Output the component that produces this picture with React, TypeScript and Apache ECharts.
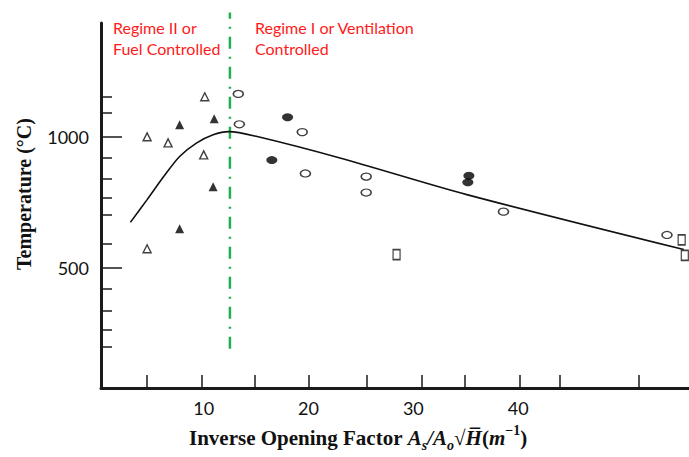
import React, { useEffect, useRef } from "react";
import * as echarts from "echarts";

// Data
const curveX = [3.0, 4.6, 6.2, 7.7, 9.3, 10.9, 12.4, 15.1, 23.0, 35.1, 55.8];
const curveY = [673, 760, 849, 925, 976, 1008, 1020, 1001, 919, 779, 569];

const openTriangles = [[4.6, 1000], [6.6, 977], [10.1, 1153], [10.0, 931], [4.6, 572]];
const filledTriangles = [[7.7, 1046], [11.0, 1069], [10.9, 809], [7.7, 649]];
const openCircles = [[13.3, 1164], [13.4, 1048], [19.4, 1018], [19.7, 860], [25.5, 848], [25.5, 787], [38.6, 714], [54.2, 625]];
const filledCircles = [[18.0, 1075], [16.5, 911], [35.3, 851], [35.2, 826]];
const openSquares = [[28.4, 550], [55.6, 606], [55.9, 547]];

const regimeBoundaryX = 12.5;
const regimeBoundaryY = [190, 1475];

const xTickValues = [4.6, 9.84, 14.9, 20.05, 25.58, 30.83, 34.93, 40.18, 44.0, 51.5];
const xLabelValues = [10, 20, 30, 40];
const yMajorValues = [500, 1000];
const yMinorValues = [1152, 1091, 919, 839, 766, 701, 590, 418, 334, 262, 197];

const X_MIN = 0.2;
const X_MAX = 56.3;
const Y_MIN = 40;
const Y_MAX = 1435;

export default function App() {
  const ref = useRef<HTMLDivElement>(null);
  useEffect(() => {
    if (!ref.current) return;
    const chart = echarts.init(ref.current, undefined, { renderer: "svg" });
    const axisColor = "#1a1a1a";
    const serif = "'Liberation Serif', 'Times New Roman', serif";
    const sans = "Lato, 'Open Sans', sans-serif";
    chart.setOption({
      animation: false,
      backgroundColor: "#ffffff",
      grid: { left: 101, right: 0, top: 23, bottom: 69, containLabel: false },
      xAxis: {
        type: "value",
        min: X_MIN,
        max: X_MAX,
        axisLine: { show: true, onZero: false, lineStyle: { color: axisColor, width: 3 } },
        axisTick: { show: true, inside: true, length: 13, customValues: xTickValues, lineStyle: { color: axisColor, width: 1.5 } },
        axisLabel: { show: true, customValues: xLabelValues, margin: 11, color: "#111", fontSize: 18, fontFamily: sans, formatter: (v: number) => String(v) },
        splitLine: { show: false },
      },
      yAxis: [
        {
          type: "value",
          min: Y_MIN,
          max: Y_MAX,
          position: "left",
          axisLine: { show: true, onZero: false, lineStyle: { color: axisColor, width: 3 } },
          axisTick: { show: true, inside: true, length: 21, customValues: yMajorValues, lineStyle: { color: axisColor, width: 1.5 } },
          axisLabel: { show: true, customValues: yMajorValues, margin: 12, color: "#111", fontSize: 18, fontFamily: sans, formatter: (v: number) => String(v) },
          splitLine: { show: false },
        },
        {
          type: "value",
          min: Y_MIN,
          max: Y_MAX,
          position: "left",
          axisLine: { show: false },
          axisTick: { show: true, inside: true, length: 11, customValues: yMinorValues, lineStyle: { color: axisColor, width: 1.5 } },
          axisLabel: { show: false },
          splitLine: { show: false },
        },
      ],
      graphic: [
        {
          type: "text",
          left: 113,
          top: 17,
          style: {
            text: "Regime II or\nFuel Controlled",
            fill: "#ff1a1a",
            font: `16px ${sans}`,
            lineHeight: 21,
          },
        },
        {
          type: "text",
          left: 255,
          top: 17,
          style: {
            text: "Regime I or Ventilation\nControlled",
            fill: "#ff1a1a",
            font: `16px ${sans}`,
            lineHeight: 21,
          },
        },
        {
          type: "text",
          x: 24,
          y: 194,
          rotation: Math.PI / 2,
          style: {
            text: "Temperature (\u00B0C)",
            fill: "#111",
            font: `bold 20px ${serif}`,
            align: "center",
            verticalAlign: "middle",
          },
        },
        {
          type: "text",
          left: 189,
          top: 423,
          style: {
            text: "{b|Inverse Opening Factor }{i|A}{sub|s}{i|/A}{sub|o}{b|\u221A}{i|H\u0305}{b|(}{i|m}{sup|\u22121}{b|)}",
            rich: {
              b: { fontFamily: serif, fontWeight: "bold", fontSize: 21, lineHeight: 29, fill: "#111" },
              i: { fontFamily: serif, fontWeight: "bold", fontStyle: "italic", fontSize: 21, lineHeight: 29, fill: "#111" },
              sub: { fontFamily: serif, fontWeight: "bold", fontStyle: "italic", fontSize: 14, verticalAlign: "bottom", fill: "#111" },
              sup: { fontFamily: serif, fontWeight: "bold", fontSize: 14, verticalAlign: "top", fill: "#111" },
            },
          },
        },
      ],
      series: [
        {
          type: "line",
          data: curveX.map((x, i) => [x, curveY[i]]),
          smooth: 0.3,
          showSymbol: false,
          symbol: "none",
          lineStyle: { color: "#111", width: 1.6 },
          z: 2,
        },
        {
          type: "line",
          data: regimeBoundaryY.map((y) => [regimeBoundaryX, y]),
          clip: false,
          symbol: "none",
          lineStyle: { color: "#1fb14e", width: 2.5, type: [12, 8, 2, 8] },
          z: 1,
        },
        {
          type: "scatter",
          data: openTriangles,
          symbol: "triangle",
          symbolSize: [8, 8],
          itemStyle: { color: "#fff", borderColor: "#111", borderWidth: 1.4 },
          z: 3,
        },
        {
          type: "scatter",
          data: filledTriangles,
          symbol: "triangle",
          symbolSize: [9, 9],
          itemStyle: { color: "#000" },
          z: 3,
        },
        {
          type: "scatter",
          data: openCircles,
          symbol: "circle",
          symbolSize: [10, 7],
          itemStyle: { color: "#fff", borderColor: "#111", borderWidth: 1.4 },
          z: 3,
        },
        {
          type: "scatter",
          data: filledCircles,
          symbol: "circle",
          symbolSize: [11, 8],
          itemStyle: { color: "#000" },
          z: 3,
        },
        {
          type: "scatter",
          data: openSquares,
          symbol: "rect",
          symbolSize: [7, 10],
          itemStyle: { color: "#fff", borderColor: "#111", borderWidth: 1.4 },
          z: 3,
        },
      ],
    });
    return () => chart.dispose();
  }, []);
  return <div ref={ref} style={{ width: 689, height: 457, position: "fixed", left: 0, top: 0 }} />;
}
